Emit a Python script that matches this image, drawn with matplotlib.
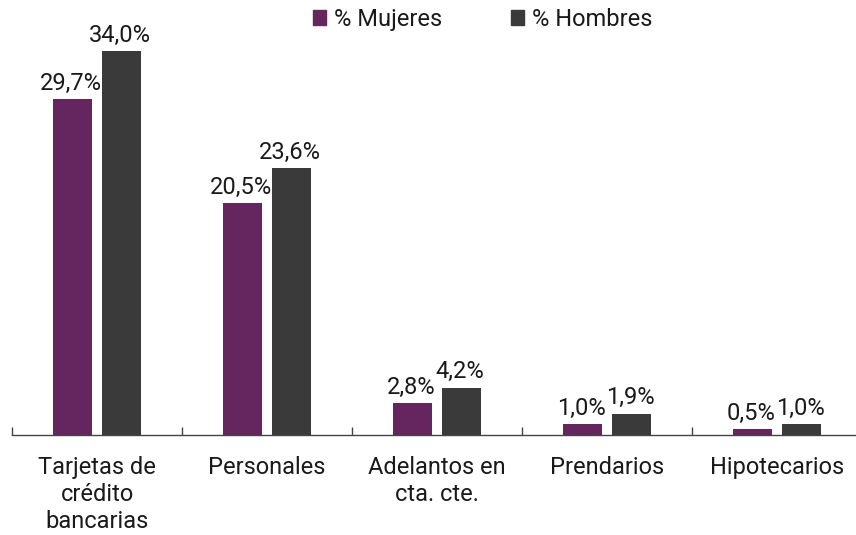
import numpy as np
import matplotlib.pyplot as plt
from matplotlib.patches import Patch

plt.rcParams['font.family'] = ['Roboto', 'DejaVu Sans']

# data
categorias = ["Tarjetas de\ncrédito\nbancarias", "Personales", "Adelantos en\ncta. cte.", "Prendarios", "Hipotecarios"]
mujeres = [29.7, 20.5, 2.8, 1.0, 0.5]
hombres = [34.0, 23.6, 4.2, 1.9, 1.0]
series_names = ["% Mujeres", "% Hombres"]

col_m = "#65255f"
col_h = "#3a3a3a"
txt = "#1a1a1a"
fs = 17

fig = plt.figure(figsize=(8.56, 5.35), dpi=100)
ax = fig.add_axes([12 / 856, 100 / 535, 850 / 856, 435 / 535])

x = np.arange(len(categorias))
w = 0.224
off = 0.144
b1 = ax.bar(x - off, mujeres, w, color=col_m)
b2 = ax.bar(x + off, hombres, w, color=col_h)

def fmt(v):
    return ("%.1f%%" % v).replace(".", ",")

for bars, vals in [(b1, mujeres), (b2, hombres)]:
    for b, v in zip(bars, vals):
        ax.annotate(fmt(v), (b.get_x() + b.get_width() / 2, v),
                    xytext=(-1, 3), textcoords='offset points',
                    ha='center', va='bottom', fontsize=fs, color=txt)

ax.set_xlim(-0.5, len(categorias) - 0.5)
ax.set_ylim(0, 38.5)

# category labels, tick marks at the boundaries
ax.set_xticks(x)
ax.set_xticklabels(categorias, fontsize=fs, color=txt, linespacing=1.24)
ax.tick_params(axis='x', which='major', length=0, pad=15)
ax.set_xticks(np.arange(-0.5, len(categorias), 1), minor=True)
ax.tick_params(axis='x', which='minor', direction='in', length=6, width=1, color='#444444')

ax.set_yticks([])
for s in ['top', 'right', 'left']:
    ax.spines[s].set_visible(False)
ax.spines['bottom'].set_color('#444444')
ax.spines['bottom'].set_linewidth(1)

handles = [Patch(color=col_m), Patch(color=col_h)]
fig.legend(handles, series_names, loc='upper center', bbox_to_anchor=(0.564, 1.025),
           ncol=2, frameon=False, fontsize=fs, handlelength=0.55, handleheight=0.55,
           handletextpad=0.35, columnspacing=2.9, labelcolor=txt)

fig.savefig('out.png', dpi=100)
